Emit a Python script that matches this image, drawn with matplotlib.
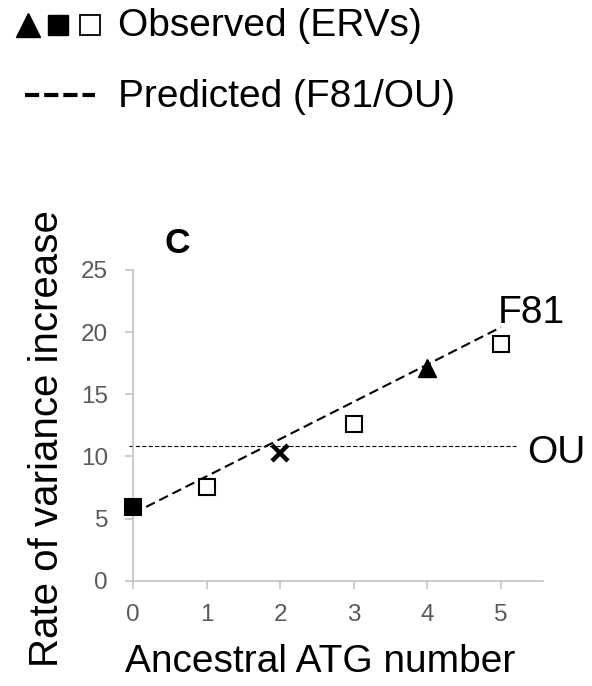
import matplotlib
matplotlib.use("Agg")
import matplotlib.pyplot as plt
from matplotlib.lines import Line2D

plt.rcParams['font.family'] = ['Liberation Sans', 'DejaVu Sans']
plt.rcParams['lines.scale_dashes'] = False

# ---- data ----
atg_number = [0, 1, 2, 3, 4, 5]
observed = [5.9, 7.55, 10.25, 12.6, 17.1, 19.05]
observed_markers = ['s', 's', 'x', 's', '^', 's']
observed_filled = [True, False, True, False, True, False]
f81_pred = [5.4, 8.4, 11.4, 14.4, 17.4, 20.4]
ou_value = 10.86
ou_range = [-0.05, 5.2]
x_ticks = [0, 1, 2, 3, 4, 5]
y_ticks = [0, 5, 10, 15, 20, 25]

W, H = 592, 686
fig = plt.figure(figsize=(W / 100, H / 100), dpi=100)
ax = fig.add_axes([133 / W, 1 - 580.7 / H, (543 - 133) / W, (580.7 - 270) / H])

ax.set_xlim(0, 5.57)
ax.set_ylim(0, 25)

# F81 prediction
ax.plot(atg_number, f81_pred, color='black', lw=1.5, dashes=(7, 3.6), clip_on=False, zorder=2)
# OU prediction
ax.plot(ou_range, [ou_value, ou_value], color='black', lw=0.8, dashes=(3, 1.6), clip_on=False, zorder=2)

# observed points
for x, y, m, f in zip(atg_number, observed, observed_markers, observed_filled):
    if m == 'x':
        ax.plot(x, y, marker='x', ms=12, mew=3.2, color='black', ls='none', clip_on=False, zorder=3)
    elif m == '^':
        ax.plot(x, y, marker='^', ms=12.5, color='black', ls='none', clip_on=False, zorder=3)
    else:
        ax.plot(x, y, marker='s', ms=11.5, mew=1.5, mec='black',
                mfc='black' if f else 'white', ls='none', clip_on=False, zorder=3)

ax.text(4.95, 20.7, 'F81', fontsize=28, va='baseline', ha='left')
ax.text(5.35, 9.47, 'OU', fontsize=28, va='baseline', ha='left', clip_on=False)

for s in ['top', 'right']:
    ax.spines[s].set_visible(False)
for s in ['left', 'bottom']:
    ax.spines[s].set_color('#bfbfbf')
    ax.spines[s].set_linewidth(1.1)

ax.set_xticks(x_ticks)
ax.set_yticks(y_ticks)
ax.tick_params(axis='both', colors='#bfbfbf', length=6, width=1.1, direction='out',
               labelcolor='#595959', labelsize=17.5)
ax.tick_params(axis='x', pad=11)
ax.tick_params(axis='y', pad=12)

fig.text(47 / W, 1 - 439 / H, 'Rate of variance increase', rotation=90, fontsize=29,
         ha='center', va='center')
fig.text(320 / W, 1 - 672 / H, 'Ancestral ATG number', fontsize=28, ha='center', va='baseline')
fig.text(165 / W, 1 - 253 / H, 'C', fontsize=25.5, fontweight='bold', ha='left', va='baseline')

# legend
legend_y = 1 - 25 / H
fig.add_artist(Line2D([27.5 / W], [legend_y], transform=fig.transFigure, marker='^', ms=17,
                      color='black', ls='none'))
fig.add_artist(Line2D([58 / W], [legend_y], transform=fig.transFigure, marker='s', ms=14.5,
                      color='black', ls='none'))
fig.add_artist(Line2D([89.5 / W], [legend_y], transform=fig.transFigure, marker='s', ms=14.5,
                      mfc='white', mec='black', mew=1.3, ls='none'))
fig.text(118 / W, 1 - 36 / H, 'Observed (ERVs)', fontsize=28, ha='left', va='baseline')
fig.add_artist(Line2D([25 / W, 95 / W], [1 - 95 / H, 1 - 95 / H], transform=fig.transFigure,
                      color='black', lw=3, dashes=(10.2, 3.6)))
fig.text(118 / W, 1 - 107 / H, 'Predicted (F81/OU)', fontsize=28, ha='left', va='baseline')

fig.savefig('out.png', dpi=100)
